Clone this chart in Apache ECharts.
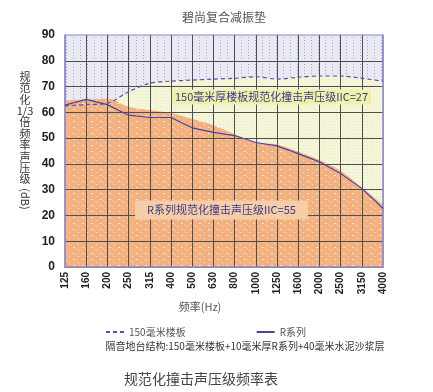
<!DOCTYPE html>
<html><head><meta charset="utf-8">
<script src="https://cdn.jsdelivr.net/npm/echarts@6/dist/echarts.min.js"></script>
<style>html,body{margin:0;padding:0;background:#fff}#c{width:433px;height:392px}</style>
</head><body><div id="c"></div>
<script>
const categories = ['125','160','200','250','315','400','500','630','800','1000','1250','1600','2000','2500','3150','4000'];
const slabValues = [62.5, 63, 63.5, 68, 71.3, 72.1, 72.5, 72.9, 73.2, 73.8, 72.9, 73.6, 74.1, 74.1, 73.2, 72.1];
const rValues = [62.8, 65, 63, 58.9, 58, 58, 54, 52.2, 51, 48.3, 47, 44, 40.8, 36.3, 30.5, 22.7];
const rFillValues = [64.8, 65, 65.3, 62.2, 60.9, 59.6, 57.4, 55, 51.5, 48.2, 47.5, 44.7, 41.5, 37.3, 30.8, 24.2];
const yTicks = {min: 0, max: 90, interval: 10};

const CJK = '"Noto Sans CJK SC", "Noto Sans", sans-serif';
const NUM = '"Liberation Sans", Arial, sans-serif';

function makePattern(w, h, bg, dots) {
  const c = document.createElement('canvas');
  c.width = w; c.height = h;
  const ctx = c.getContext('2d');
  ctx.fillStyle = bg; ctx.fillRect(0, 0, w, h);
  dots.forEach(d => { ctx.fillStyle = d[2]; ctx.fillRect(d[0], d[1], 1, 1); });
  return {image: c, repeat: 'repeat'};
}
const topPattern = makePattern(7, 3, '#e7eaf2', [[3, 1, '#c996c4']]);
const yellowPattern = makePattern(3, 3, '#f5f6d3', [[1, 1, '#e2e7ec']]);
const orangePattern = makePattern(9, 6, '#f2b17f', [[1, 1, '#fbe3cf'], [2, 1, '#fbe3cf'], [6, 4, '#fbe3cf'], [4, 2, '#f6cbaa']]);

const chart = echarts.init(document.getElementById('c'));
const purple = '#8a86c6';
chart.setOption({
  animation: false,
  grid: {left: 65, right: 50, top: 35, bottom: 125, show: true, backgroundColor: topPattern, borderColor: purple, borderWidth: 1},
  legend: {
    data: [
      {name: '150毫米楼板', itemStyle: {opacity: 0}},
      {name: 'R系列', itemStyle: {opacity: 0}}
    ],
    left: 100, top: 322, itemWidth: 18, itemHeight: 10, itemGap: 70,
    textStyle: {fontSize: 10, color: '#555', fontFamily: CJK}
  },
  xAxis: [{
    type: 'category', data: categories, boundaryGap: false, z: 2,
    axisLine: {show: true, lineStyle: {color: purple, width: 1.5}},
    axisTick: {show: false},
    splitLine: {show: true, showMinLine: false, showMaxLine: false, lineStyle: {color: '#4f4f4f', width: 1}},
    axisLabel: {rotate: 90, fontSize: 10, fontWeight: 'bold', color: '#222', fontFamily: NUM, margin: 5, interval: 0}
  }, {
    type: 'category', data: categories, boundaryGap: false, position: 'top', z: 2,
    axisLine: {show: true, lineStyle: {color: '#8c8aa8', width: 1}},
    axisTick: {show: false}, axisLabel: {show: false}, splitLine: {show: false}
  }],
  yAxis: [{
    type: 'value', min: yTicks.min, max: yTicks.max, interval: yTicks.interval, z: 2,
    axisLine: {show: true, lineStyle: {color: purple, width: 1.5}},
    axisTick: {show: false},
    splitLine: {show: true, showMinLine: false, showMaxLine: false, lineStyle: {color: '#4f4f4f', width: 1}},
    axisLabel: {fontSize: 12, fontWeight: 'bold', color: '#222', fontFamily: NUM, margin: 10}
  }, {
    type: 'value', min: yTicks.min, max: yTicks.max, interval: yTicks.interval, position: 'right', z: 2,
    axisLine: {show: true, lineStyle: {color: purple, width: 1.5}},
    axisTick: {show: false}, axisLabel: {show: false}, splitLine: {show: false}
  }],
  series: [
    {name: 'slabArea', type: 'line', data: slabValues, smooth: 0.3, symbol: 'none', z: 1,
     lineStyle: {width: 0}, areaStyle: {color: yellowPattern, opacity: 1}, silent: true},
    {name: 'rArea', type: 'line', data: rFillValues, smooth: 0.4, symbol: 'none', z: 1,
     lineStyle: {width: 0}, areaStyle: {color: orangePattern, opacity: 1}, silent: true},
    {name: '150毫米楼板', type: 'line', data: slabValues, smooth: 0.3, symbol: 'none', z: 3,
     itemStyle: {color: '#5a4fb0'},
     lineStyle: {color: '#5a4fb0', width: 1.2, type: [4, 3]}},
    {name: 'R系列', type: 'line', data: rValues, symbol: 'none', z: 3,
     itemStyle: {color: '#4b42a6'},
     lineStyle: {color: '#4b42a6', width: 1.2}}
  ],
  graphic: [
    {type: 'text', x: 224, y: 17, z: 10, style: {text: '碧尚复合减振垫', font: '12px ' + CJK, fill: '#555', align: 'center', verticalAlign: 'middle'}},
    {type: 'text', x: 25, y: 71, z: 10, style: {text: '规\n范\n化\n1/3\n倍\n频\n率\n声\n压\n级', font: '11px ' + CJK, fill: '#333', align: 'center', verticalAlign: 'top', lineHeight: 11.4}},
    {type: 'text', x: 25, y: 199, rotation: -Math.PI / 2, z: 10, style: {text: '(dB)', font: '11px ' + CJK, fill: '#333', align: 'center', verticalAlign: 'middle'}},
    {type: 'text', x: 200, y: 307, z: 10, style: {text: '频率(Hz)', font: '11px ' + CJK, fill: '#555', align: 'center', verticalAlign: 'middle'}},
    {type: 'text', x: 245, y: 346, z: 10, style: {text: '隔音地台结构:150毫米楼板+10毫米厚R系列+40毫米水泥沙浆层', font: '10px ' + CJK, fill: '#333', align: 'center', verticalAlign: 'middle'}},
    {type: 'text', x: 201, y: 379, z: 10, style: {text: '规范化撞击声压级频率表', font: '14px ' + CJK, fill: '#444', align: 'center', verticalAlign: 'middle'}},
    {type: 'text', x: 271.5, y: 97, z: 10, style: {text: '150毫米厚楼板规范化撞击声压级IIC=27', font: '11px ' + CJK, fill: '#3d3790', align: 'center', verticalAlign: 'middle', backgroundColor: '#eff1a6', padding: [2, 3, 2, 3]}},
    {type: 'text', x: 221.5, y: 210, z: 10, style: {text: 'R系列规范化撞击声压级IIC=55', font: '11px ' + CJK, fill: '#3d3790', align: 'center', verticalAlign: 'middle', backgroundColor: '#f5cda6', padding: [4, 12, 4, 12]}}
  ]
});
</script></body></html>
